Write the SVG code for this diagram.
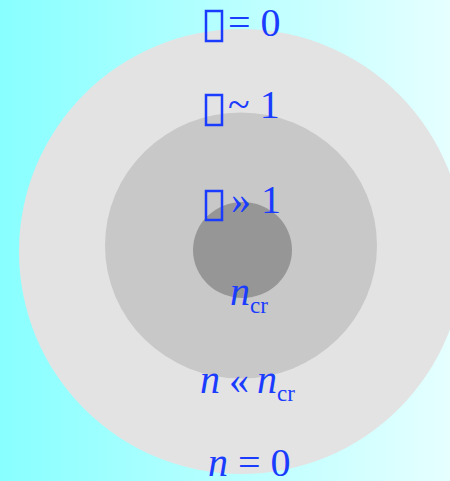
<svg xmlns="http://www.w3.org/2000/svg" width="450" height="481" viewBox="0 0 450 481">
<defs>
<linearGradient id="bg" x1="0" y1="0" x2="1" y2="0">
<stop offset="0" stop-color="#88ffff"/>
<stop offset="1" stop-color="#e6ffff"/>
</linearGradient>
<style>
.t{font-family:"Liberation Serif","Times New Roman",serif;font-size:40px;fill:#1a3cff}
.i{font-style:italic}
.s{font-size:23px}
.box{fill:none;stroke:#1a3cff;stroke-width:2.5}
</style>
</defs>
<rect x="0" y="0" width="450" height="481" fill="url(#bg)"/>
<g id="outer"><circle cx="241.5" cy="251.5" r="222.5" fill="#e3e3e3"/></g>
<g id="middle"><ellipse cx="241" cy="245.5" rx="136" ry="133" fill="#c8c8c8"/></g>
<g id="inner"><ellipse cx="242.5" cy="250" rx="49.5" ry="48" fill="#969696"/></g>
<g id="label-tau0">
<rect class="box" x="206" y="11" width="16" height="30"/>
<text class="t" x="228" y="36">= 0</text>
</g>
<g id="label-tau1">
<rect class="box" x="206" y="95" width="16" height="30"/>
<text class="t" x="228" y="118">~ 1</text>
</g>
<g id="label-taubig">
<rect class="box" x="206" y="191" width="16" height="29"/>
<text class="t" x="231" y="213">» 1</text>
</g>
<g id="label-ncr">
<text class="t" x="230" y="305"><tspan class="i">n</tspan><tspan class="s" dy="8">cr</tspan></text>
</g>
<g id="label-nll">
<text class="t" x="200" y="393"><tspan class="i">n</tspan><tspan x="229">«</tspan><tspan class="i" x="257">n</tspan><tspan class="s" dy="8">cr</tspan></text>
</g>
<g id="label-n0">
<text class="t" x="208" y="476"><tspan class="i">n</tspan> = 0</text>
</g>
</svg>
